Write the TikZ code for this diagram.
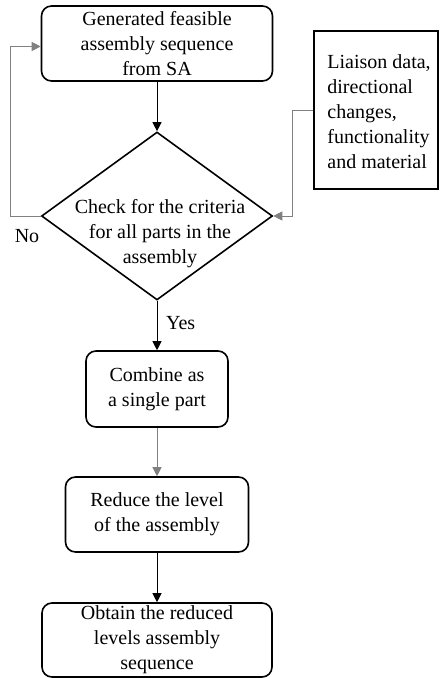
\documentclass[tikz,border=0pt]{standalone}
\usepackage{fontspec}
\setmainfont{Liberation Serif}
\usepackage{tikz}
\usetikzlibrary{arrows.meta, shapes.geometric, positioning, calc}
\definecolor{LinkGray}{RGB}{128, 128, 128}

\begin{document}
\begin{tikzpicture}[x=0.5pt, y=-0.5pt, font=\fontsize{10}{12.5}\selectfont,
    stepbox/.style={draw, thick, rounded corners=5pt, align=center, inner sep=0pt},
    arr/.style={-{Triangle[length=4.5pt, width=4.5pt]}},
    grayarr/.style={draw=LinkGray, -{Triangle[length=4.5pt, width=4.5pt]}}]
    \useasboundingbox (0,0) rectangle (440,678);

    % 流程框
    \node[stepbox, minimum width=115.5pt, minimum height=37.5pt] (gen) at (157,43.5) {Generated feasible\\assembly sequence\\from SA};
    \node[draw, thick, diamond, inner sep=0pt, minimum width=115.5pt, minimum height=84pt] (chk) at (157,216) {};
    \node[align=center] (chktxt) at (160,234) {Check for the criteria\\for all parts in the\\assembly};
    \node[stepbox, minimum width=71pt, minimum height=38pt] (comb) at (157,389) {Combine as\\a single part};
    \node[stepbox, minimum width=91.5pt, minimum height=37.5pt] (red) at (157,514.5) {Reduce the level\\of the assembly};
    \node[stepbox, minimum width=115pt, minimum height=37pt] (obt) at (157,640) {Obtain the reduced\\levels assembly\\sequence};

    % 输入数据
    \node[draw, thick, minimum width=62pt, minimum height=79pt, inner sep=0pt] (liai) at (376,110) {};
    \node[align=left, anchor=west, inner sep=0pt] (liaitxt) at (327,112) {Liaison data,\\directional\\changes,\\functionality\\and material};

    % 连线
    \draw[arr] (gen) -- (chk.north);
    \draw[arr] (chk.south) -- (comb) node[pos=0.45, right=1pt] (yes) {Yes};
    \draw[grayarr] (comb) -- (red);
    \draw[arr] (red) -- (obt);
    \draw[grayarr] (chk.west) -- ++(-30,0) |- ($(gen.west)+(0,3)$);
    \node (no) at (27,236) {No};
    \draw[grayarr] (liai.west) -- ++(-21,0) |- (chk.east);
\end{tikzpicture}
\end{document}
